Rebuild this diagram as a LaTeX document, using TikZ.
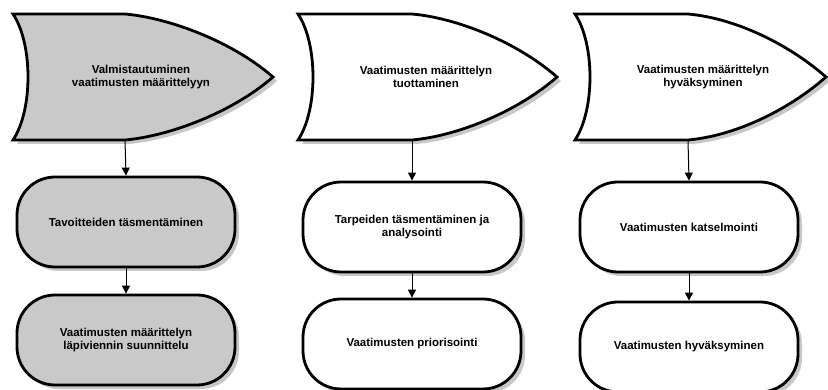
\documentclass[tikz,border=0pt]{standalone}
\usepackage{fontspec}
\setmainfont{Liberation Sans}
\usetikzlibrary{arrows.meta,shadows}
\definecolor{shade}{gray}{0.79}

\begin{document}
\begin{tikzpicture}[x=1pt,y=-1pt,>={Triangle[length=8pt,width=8pt]},
  font=\fontsize{11.5}{13.5}\selectfont\bfseries,
  shad/.style={drop shadow={shadow xshift=4pt,shadow yshift=-4pt,fill=black!22,opacity=1}},
  phase/.style={draw,line width=2.8pt,line join=miter,shad},
  task/.style={draw,line width=2.8pt,rounded corners=38pt,minimum width=218pt,
               minimum height=90pt,align=center,shad},
  flow/.style={->,line width=1pt}]
\useasboundingbox (0,0) rectangle (828,390);
% phases: left, centre line, tip, fill
\foreach \n/\l/\m/\r/\col/\txt in {
  1/13/125/273/shade/{Valmistautuminen\\vaatimusten määrittelyyn},
  2/298/412/557/white/{Vaatimusten määrittelyn\\tuottaminen},
  3/575/688/826/white/{Vaatimusten määrittelyn\\hyväksyminen}}{
  \path[phase,fill=\col] (\l,14) -- (\m,14)
    .. controls (\m+45,18) and (\r-40,42) .. (\r,77)
    .. controls (\r-40,112) and (\m+45,136) .. (\m,140)
    -- (\l,140) .. controls (\l+20,110) and (\l+20,44) .. cycle;
  \node[align=center] (p\n) at (\l+128,77) {\txt};
  \coordinate (p\n b) at (\m,140);
}
% tasks
\node[task,fill=shade] (t1a) at (126,222) {Tavoitteiden täsmentäminen};
\node[task,fill=shade] (t1b) at (126,340) {Vaatimusten määrittelyn\\läpiviennin suunnittelu};
\node[task,fill=white] (t2a) at (412,227) {Tarpeiden täsmentäminen ja\\analysointi};
\node[task,fill=white] (t2b) at (412,344) {Vaatimusten priorisointi};
\node[task,fill=white] (t3a) at (689,227) {Vaatimusten katselmointi};
\node[task,fill=white] (t3b) at (689,347) {Vaatimusten hyväksyminen};
% connectors
\foreach \n in {1,2,3}{
  \draw[flow] (p\n b) -- (t\n a.north);
  \draw[flow] (t\n a) -- (t\n b);
}
\end{tikzpicture}
\end{document}
